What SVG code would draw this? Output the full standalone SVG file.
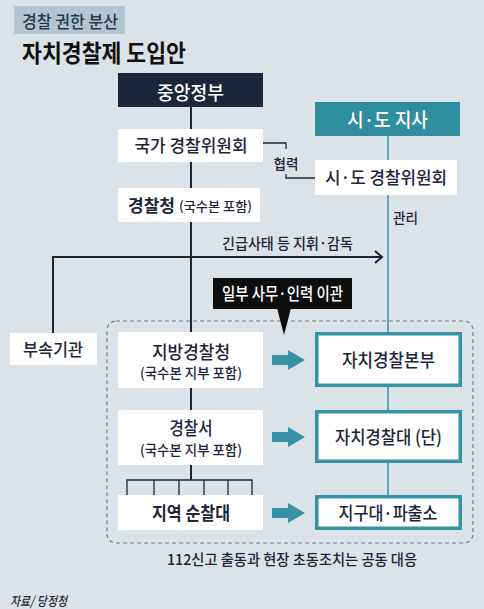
<svg xmlns="http://www.w3.org/2000/svg" width="484" height="609" viewBox="0 0 484 609">
<style>
text{font-family:"Noto Sans CJK KR","Noto Sans",sans-serif;font-weight:500;}
.b{font-weight:700;}
.box{fill:#ffffff;}
.tbox{fill:#ffffff;stroke:#3593a5;stroke-width:3.5;}
.navy{stroke:#1d2638;stroke-width:2;fill:none;}
.thin{stroke:#1d2638;stroke-width:1.3;fill:none;}
.teal{stroke:#3a9aaa;stroke-width:1.6;fill:none;}
.mid{text-anchor:middle;}
.arrow{fill:#3593a5;}
</style>
<defs>
<g id="fat"><rect x="0" y="-5" width="17" height="10"/><polygon points="16,-10 33,0 16,10"/></g>
</defs>
<rect width="484" height="609" fill="#dce3e8"/>
<g id="title">
<rect x="14" y="6" width="111" height="28" fill="#b3c6d0"/>
<text x="22" y="28" font-size="17" fill="#27384a" textLength="96" lengthAdjust="spacingAndGlyphs">경찰 권한 분산</text>
<text x="22" y="62" font-size="24" class="b" fill="#111" textLength="164" lengthAdjust="spacingAndGlyphs">자치경찰제 도입안</text>
</g>
<g id="connectors">
<line class="navy" x1="191" y1="107" x2="191" y2="480"/>
<polyline class="thin" points="127,495 127,480 252,480 252,495"/>
<line class="thin" x1="154" y1="480" x2="154" y2="495"/>
<line class="thin" x1="179" y1="480" x2="179" y2="495"/>
<line class="thin" x1="204" y1="480" x2="204" y2="495"/>
<line class="thin" x1="228" y1="480" x2="228" y2="495"/>
<polyline class="navy" points="53,333 53,257 382,257"/>
<polyline class="navy" points="375,251 382,257 375,263"/>
<line class="teal" x1="388" y1="136" x2="388" y2="495"/>
<polyline class="thin" points="263,143 286,143 286,149"/>
<polyline class="thin" points="286,174 286,178 315,178"/>
<rect x="107" y="321" width="366" height="222" rx="9" fill="none" stroke="#7a7f85" stroke-width="1.2" stroke-dasharray="4 3"/>
<g class="arrow">
<use href="#fat" x="272" y="360"/>
<use href="#fat" x="272" y="437"/>
<use href="#fat" x="272" y="513"/>
</g>
<text x="286" y="169" font-size="14" class="mid" fill="#1d2638" textLength="25" lengthAdjust="spacingAndGlyphs">협력</text>
<text x="393" y="223" font-size="14" fill="#1d2638" textLength="25" lengthAdjust="spacingAndGlyphs">관리</text>
<text x="222" y="248.5" font-size="15" fill="#1d2638" textLength="131" lengthAdjust="spacingAndGlyphs">긴급사태 등 지휘·감독</text>
</g>
<g id="central">
<rect x="118" y="73" width="145" height="34" fill="#1d2638"/>
<text x="190.5" y="100" font-size="19" class="mid" fill="#fff" textLength="67" lengthAdjust="spacingAndGlyphs">중앙정부</text>
</g>
<g id="national-committee">
<rect class="box" x="118" y="129" width="145" height="33"/>
<text x="191" y="152" font-size="17" class="mid" fill="#1d2638" textLength="113" lengthAdjust="spacingAndGlyphs">국가 경찰위원회</text>
</g>
<g id="governor">
<rect x="315" y="102" width="145" height="34" fill="#2f8e9e"/>
<text x="387.5" y="126.5" font-size="19" class="mid" fill="#fff" textLength="81" lengthAdjust="spacingAndGlyphs">시·도 지사</text>
</g>
<g id="local-committee">
<rect class="box" x="315" y="160" width="142" height="35"/>
<text x="386" y="184" font-size="17" class="mid" fill="#1d2638" textLength="122" lengthAdjust="spacingAndGlyphs">시·도 경찰위원회</text>
</g>
<g id="police-agency">
<rect class="box" x="118" y="188" width="142" height="34"/>
<text x="128" y="211.5" font-size="17" class="b" fill="#1d2638" textLength="47" lengthAdjust="spacingAndGlyphs">경찰청</text>
<text x="179" y="210.5" font-size="13" fill="#1d2638" textLength="73" lengthAdjust="spacingAndGlyphs">(국수본 포함)</text>
</g>
<g id="transfer-label">
<rect x="213" y="278" width="139" height="31" fill="#0d0d0d"/>
<polygon points="277,308 291,308 284,335" fill="#0d0d0d"/>
<text x="282.5" y="300" font-size="17" class="mid" fill="#fff" textLength="121" lengthAdjust="spacingAndGlyphs">일부 사무·인력 이관</text>
</g>
<g id="affiliated">
<rect class="box" x="10" y="333" width="87" height="32"/>
<text x="53" y="355.5" font-size="17" class="mid" fill="#1d2638" textLength="60" lengthAdjust="spacingAndGlyphs">부속기관</text>
</g>
<g id="regional-agency">
<rect class="box" x="118" y="332" width="145" height="56"/>
<text x="191" y="359" font-size="18" class="mid" fill="#1d2638" textLength="78" lengthAdjust="spacingAndGlyphs">지방경찰청</text>
<text x="191" y="378" font-size="14" class="mid" fill="#1d2638" textLength="102" lengthAdjust="spacingAndGlyphs">(국수본 지부 포함)</text>
</g>
<g id="autonomous-hq">
<rect class="tbox" x="316.75" y="333.75" width="143.5" height="51.5"/>
<text x="388.5" y="366.5" font-size="18" class="mid" fill="#1d2638" textLength="93" lengthAdjust="spacingAndGlyphs">자치경찰본부</text>
</g>
<g id="police-station">
<rect class="box" x="118" y="410" width="145" height="55"/>
<text x="191" y="435" font-size="18" class="mid" fill="#1d2638" textLength="43" lengthAdjust="spacingAndGlyphs">경찰서</text>
<text x="191" y="455" font-size="14" class="mid" fill="#1d2638" textLength="102" lengthAdjust="spacingAndGlyphs">(국수본 지부 포함)</text>
</g>
<g id="autonomous-unit">
<rect class="tbox" x="316.75" y="411.75" width="143.5" height="49.5"/>
<text x="388.5" y="443.5" font-size="18" class="mid" fill="#1d2638" textLength="107" lengthAdjust="spacingAndGlyphs">자치경찰대 (단)</text>
</g>
<g id="patrol">
<rect class="box" x="118" y="495" width="145" height="35"/>
<text x="191" y="519.5" font-size="18" class="mid b" fill="#1d2638" textLength="78" lengthAdjust="spacingAndGlyphs">지역 순찰대</text>
</g>
<g id="substation">
<rect class="tbox" x="316.75" y="496.75" width="143.5" height="31.5"/>
<text x="388" y="519.5" font-size="18" class="mid" fill="#1d2638" textLength="99" lengthAdjust="spacingAndGlyphs">지구대·파출소</text>
</g>
<g id="notes">
<text x="292" y="565" font-size="15" class="mid" fill="#1d2638" textLength="250" lengthAdjust="spacingAndGlyphs">112신고 출동과 현장 초동조치는 공동 대응</text>
<text x="10" y="606" font-size="13" font-style="italic" fill="#1d2638" textLength="57" lengthAdjust="spacingAndGlyphs">자료/ 당정청</text>
</g>
</svg>
